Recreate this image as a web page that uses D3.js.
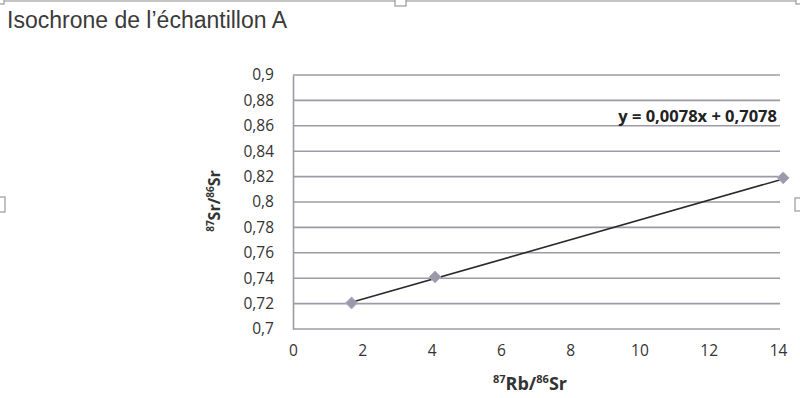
<!DOCTYPE html>
<html>
<head>
<meta charset="utf-8">
<script src="https://cdn.jsdelivr.net/npm/d3@7"></script>
<style>
  body { margin: 0; background: #fff; }
  svg { display: block; }
  .tick text { font-family: "Open Sans", "Liberation Sans", sans-serif; font-size: 15.5px; fill: #333; }
</style>
</head>
<body>
<svg id="chart" width="800" height="398"></svg>
<script>
// data
var rbSr = [1.69, 4.1, 14.15];
var srSr = [0.7205, 0.741, 0.819];
var xTicks = [0, 2, 4, 6, 8, 10, 12, 14];
var yTicks = [0.7, 0.72, 0.74, 0.76, 0.78, 0.8, 0.82, 0.84, 0.86, 0.88, 0.9];
var slope = 0.0078, intercept = 0.7078;

var svg = d3.select('#chart');
var fmt = function (d) { return String(d).replace('.', ','); };

var x = d3.scaleLinear().domain([0, 14]).range([293, 778]);
var y = d3.scaleLinear().domain([0.7, 0.9]).range([329, 75]);

// frame of the chart object (cut by the screenshot)
svg.append('line').attr('x1', 0).attr('x2', 800).attr('y1', 1).attr('y2', 1)
  .attr('stroke', '#b0b0b0').attr('stroke-width', 1.5);
var handles = [[395, -6, 11, 12], [-5, 197, 10, 15], [795, 198, 10, 13], [-4, -4, 8, 8], [796, -4, 8, 8]];
svg.selectAll('rect.handle').data(handles).enter().append('rect')
  .attr('class', 'handle')
  .attr('x', function (d) { return d[0]; }).attr('y', function (d) { return d[1]; })
  .attr('width', function (d) { return d[2]; }).attr('height', function (d) { return d[3]; })
  .attr('fill', '#fff').attr('stroke', '#999').attr('stroke-width', 1.2);

svg.append('text').attr('x', 7).attr('y', 28)
  .attr('font-family', '"Liberation Sans", Arial, sans-serif').attr('font-size', 23)
  .attr('fill', '#3a3a3a')
  .text('Isochrone de l\u2019\u00e9chantillon A');

// gridlines
svg.append('g').selectAll('line').data(yTicks).enter().append('line')
  .attr('x1', x(0)).attr('x2', x(14) + 2)
  .attr('y1', function (d) { return y(d); }).attr('y2', function (d) { return y(d); })
  .attr('stroke', '#9c9aa6').attr('stroke-width', 1.6);

// y axis
var yAxis = svg.append('g').attr('transform', 'translate(' + x(0) + ',0)')
  .call(d3.axisLeft(y).tickValues(yTicks).tickFormat(fmt).tickSize(0).tickPadding(19));
yAxis.select('.domain').attr('stroke', '#9c9aa6').attr('stroke-width', 1.6);

// x axis
var xAxis = svg.append('g').attr('transform', 'translate(0,' + y(0.7) + ')')
  .call(d3.axisBottom(x).tickValues(xTicks).tickFormat(fmt).tickSize(0).tickPadding(16));
xAxis.select('.domain').remove();

// axis titles
var yt = svg.append('text').attr('transform', 'translate(220,' + (y(0.8) - 1) + ') rotate(-90)')
  .attr('text-anchor', 'middle')
  .attr('font-family', '"Open Sans", "Liberation Sans", sans-serif')
  .attr('font-weight', 'bold').attr('font-size', 16).attr('fill', '#333');
yt.append('tspan').attr('font-size', 10).attr('dy', -6).text('87');
yt.append('tspan').attr('dy', 6).text('Sr/');
yt.append('tspan').attr('font-size', 10).attr('dy', -6).text('86');
yt.append('tspan').attr('dy', 6).text('Sr');

var xt = svg.append('text').attr('x', 530).attr('y', 390)
  .attr('text-anchor', 'middle')
  .attr('font-family', '"Open Sans", "Liberation Sans", sans-serif')
  .attr('font-weight', 'bold').attr('font-size', 18).attr('fill', '#333');
xt.append('tspan').attr('font-size', 11).attr('dy', -7).text('87');
xt.append('tspan').attr('dy', 7).text('Rb/');
xt.append('tspan').attr('font-size', 11).attr('dy', -7).text('86');
xt.append('tspan').attr('dy', 7).text('Sr');

// trendline
var xs = d3.extent(rbSr);
svg.append('line')
  .attr('x1', x(xs[0])).attr('y1', y(slope * xs[0] + intercept))
  .attr('x2', x(xs[1])).attr('y2', y(slope * xs[1] + intercept))
  .attr('stroke', '#2a2a2a').attr('stroke-width', 1.6);

// markers
svg.append('g').selectAll('path').data(rbSr).enter().append('path')
  .attr('transform', function (d, i) { return 'translate(' + x(d) + ',' + y(srSr[i]) + ')'; })
  .attr('d', d3.symbol().type(d3.symbolDiamond2).size(90))
  .attr('fill', '#9d97ab').attr('stroke', '#b4afbf').attr('stroke-width', 1);

svg.append('text').attr('x', 777).attr('y', 122).attr('text-anchor', 'end')
  .attr('font-family', '"Open Sans", "Liberation Sans", sans-serif')
  .attr('font-weight', 'bold').attr('font-size', 16.5).attr('fill', '#222')
  .text('y = ' + fmt(slope) + 'x + ' + fmt(intercept));
</script>
</body>
</html>
